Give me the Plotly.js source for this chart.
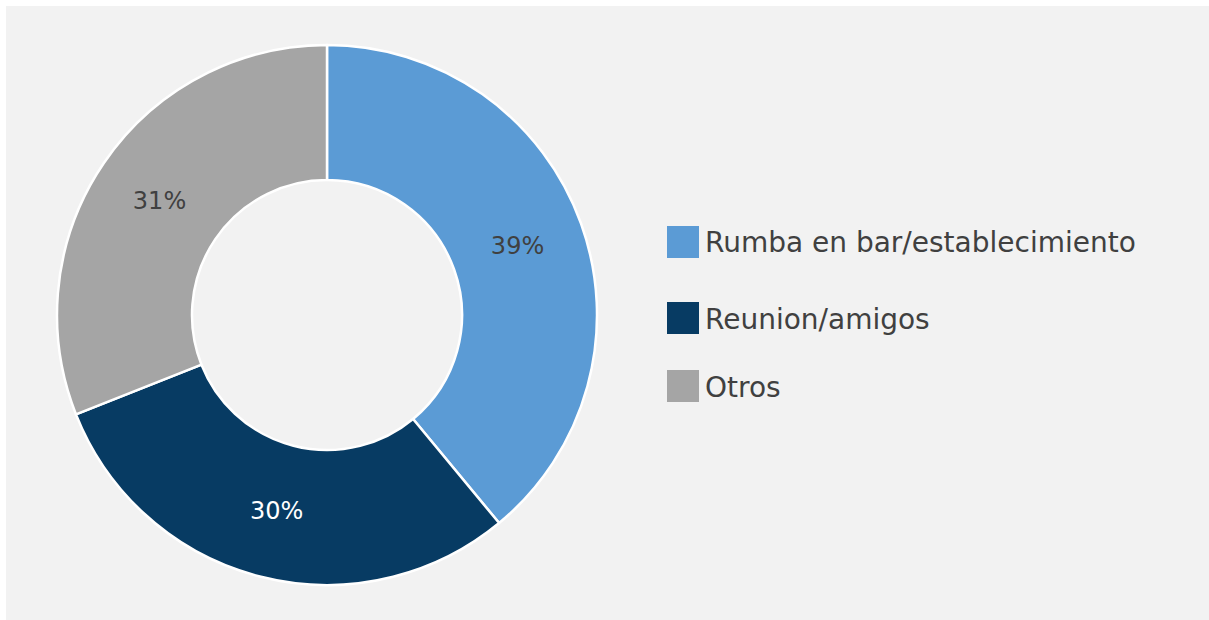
<!DOCTYPE html>
<html>
<head>
<meta charset="utf-8">
<script src="https://cdn.plot.ly/plotly-3.0.1.min.js"></script>
<style>
  html, body { margin: 0; padding: 0; background: #ffffff; width: 1209px; height: 620px; overflow: hidden; }
  #chart { position: absolute; left: 6px; top: 6px; width: 1203px; height: 614px; }
</style>
</head>
<body>
<div id="chart"></div>
<script>
const categories = ['Rumba en bar/establecimiento', 'Reunion/amigos', 'Otros'];
const values = [39, 30, 31];
const colors = ['#5b9bd5', '#073b63', '#a5a5a5'];
const labelColors = ['#404040', '#ffffff', '#404040'];

const W = 1203, H = 614;
const FONT = 'DejaVu Sans, Lato, sans-serif';

const trace = {
  type: 'pie',
  labels: categories,
  values: values,
  sort: false,
  direction: 'clockwise',
  rotation: 0,
  hole: 0.5,
  marker: { colors: colors, line: { color: '#ffffff', width: 2.5 } },
  textinfo: 'percent',
  textposition: 'inside',
  insidetextorientation: 'horizontal',
  insidetextfont: { family: FONT, size: 24, color: labelColors },
  showlegend: false,
  domain: { x: [51 / W, 591 / W], y: [(H - 579) / H, (H - 39) / H] }
};

// custom legend built from the categories / colors arrays
const legendTop = [220, 296, 364];  // layout positions (px from top) for swatches
const swatch = 32;
const shapes = [];
const annotations = [];
categories.forEach((c, i) => {
  const x0 = 661, y0 = legendTop[i];
  shapes.push({
    type: 'rect', xref: 'paper', yref: 'paper',
    x0: x0 / W, x1: (x0 + swatch) / W,
    y0: 1 - (y0 + swatch) / H, y1: 1 - y0 / H,
    fillcolor: colors[i], line: { width: 0 }
  });
  annotations.push({
    xref: 'paper', yref: 'paper',
    x: (x0 + swatch + 4) / W, y: 1 - (y0 + swatch / 2 + 1) / H,
    xanchor: 'left', yanchor: 'middle',
    text: c, showarrow: false,
    font: { family: FONT, size: 28, color: '#404040' }
  });
});

const layout = {
  width: W, height: H,
  margin: { l: 0, r: 0, t: 0, b: 0 },
  paper_bgcolor: '#f2f2f2',
  plot_bgcolor: '#f2f2f2',
  showlegend: false,
  shapes: shapes,
  annotations: annotations
};

Plotly.newPlot('chart', [trace], layout, { displayModeBar: false, staticPlot: true });
</script>
</body>
</html>
